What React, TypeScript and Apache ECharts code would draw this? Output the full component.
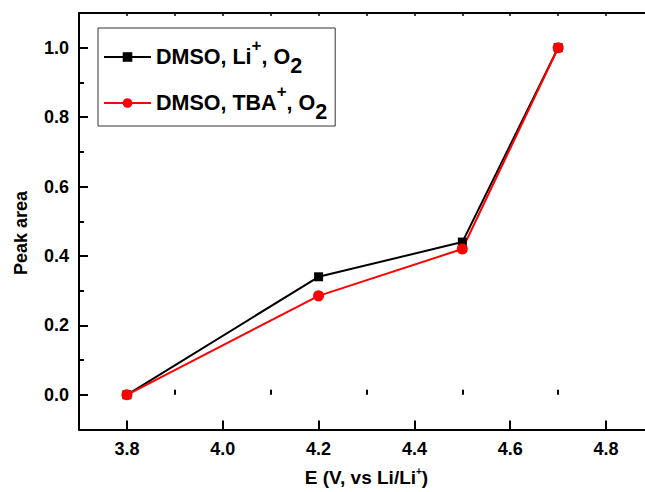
import React, { useEffect, useRef } from 'react';
import * as echarts from 'echarts';

const xValues = [3.8, 4.2, 4.5, 4.7];
const liValues = [0, 0.34, 0.44, 1.0];
const tbaValues = [0, 0.285, 0.42, 1.0];
const seriesNames = ['DMSO, Li+, O2', 'DMSO, TBA+, O2'];
const xMajorTicks = [3.8, 4.0, 4.2, 4.4, 4.6, 4.8];
const xMinorTicks = [3.7, 3.9, 4.1, 4.3, 4.5, 4.7, 4.9];
const xAllTicks = [3.7, 3.8, 3.9, 4.0, 4.1, 4.2, 4.3, 4.4, 4.5, 4.6, 4.7, 4.8, 4.9];
const yMajorTicks = [0, 0.2, 0.4, 0.6, 0.8, 1.0];
const yMinorTicks = [-0.1, 0.1, 0.3, 0.5, 0.7, 0.9, 1.1];

const FONT = '"Liberation Sans", Arial, sans-serif';

export default function App() {
  const ref = useRef<HTMLDivElement>(null);
  useEffect(() => {
    if (!ref.current) return;
    const chart = echarts.init(ref.current, undefined, { renderer: 'svg' });
    const axisLine = { show: true, onZero: false, lineStyle: { color: '#000', width: 2 } };
    const label = {
      fontFamily: FONT, fontWeight: 'bold', fontSize: 18, color: '#000', margin: 10,
      formatter: (v: number) => v.toFixed(1),
    };
    const legendRich = {
      b: { fontFamily: FONT, fontWeight: 'bold', fontSize: 21.5, color: '#000', lineHeight: 40 },
      sup: { fontFamily: FONT, fontWeight: 'bold', fontSize: 17, color: '#000', lineHeight: 17, verticalAlign: 'top' },
      sub: { fontFamily: FONT, fontWeight: 'bold', fontSize: 21.5, color: '#000', lineHeight: 25, verticalAlign: 'bottom' },
    };
    chart.setOption({
      animation: false,
      grid: { left: 79, right: 46, top: 13, bottom: 59 },
      legend: {
        orient: 'vertical', left: 98, top: 28,
        padding: [9, 8, 3, 5], itemGap: 6,
        itemWidth: 47, itemHeight: 12,
        borderColor: '#333', borderWidth: 1,
        data: seriesNames,
        formatter: (name: string) =>
          name === seriesNames[0]
            ? '{b|DMSO, Li}{sup|+}{b|, O}{sub|2}'
            : '{b|DMSO, TBA}{sup|+}{b|, O}{sub|2}',
        textStyle: { rich: legendRich },
      },
      xAxis: [
        {
          type: 'value', position: 'bottom', min: 3.7, max: 4.9,
          axisLine,
          axisTick: { inside: true, length: 9, lineStyle: { color: '#000', width: 2 }, customValues: xMajorTicks },
          axisLabel: { ...label, customValues: xMajorTicks },
          splitLine: { show: false },
          name: '{a|E (V, vs Li/Li}{s|+}{a|)}',
          nameLocation: 'middle', nameGap: 37,
          nameTextStyle: {
            rich: {
              a: { fontFamily: FONT, fontWeight: 'bold', fontSize: 19, color: '#000', lineHeight: 22 },
              s: { fontFamily: FONT, fontWeight: 'bold', fontSize: 10, color: '#000', lineHeight: 10, verticalAlign: 'top' },
            },
          },
        },
        {
          type: 'value', position: 'bottom', min: 3.7, max: 4.9,
          axisLine: { show: false },
          axisTick: { inside: true, length: 5, lineStyle: { color: '#000', width: 2 }, customValues: xMinorTicks },
          axisLabel: { show: false },
          splitLine: { show: false },
        },
        {
          type: 'value', position: 'top', min: 3.7, max: 4.9,
          axisLine,
          axisTick: { inside: true, length: 3, lineStyle: { color: '#000', width: 1.5 }, customValues: xAllTicks },
          axisLabel: { show: false },
          splitLine: { show: false },
        },
      ],
      yAxis: [
        {
          type: 'value', position: 'left', min: -0.1, max: 1.1,
          axisLine,
          axisTick: { inside: true, length: 9, lineStyle: { color: '#000', width: 2 }, customValues: yMajorTicks },
          axisLabel: { ...label, customValues: yMajorTicks },
          splitLine: { show: false },
        },
        {
          type: 'value', position: 'left', min: -0.1, max: 1.1,
          axisLine: { show: false },
          axisTick: { inside: true, length: 5, lineStyle: { color: '#000', width: 2 }, customValues: yMinorTicks },
          axisLabel: { show: false },
          splitLine: { show: false },
        },
      ],
      graphic: [
        {
          type: 'text', x: 21, y: 233, rotation: Math.PI / 2,
          style: {
            text: 'Peak area', fontFamily: FONT, fontWeight: 'bold', fontSize: 18,
            fill: '#000', align: 'center', verticalAlign: 'middle',
          },
        },
      ],
      series: [
        {
          name: seriesNames[0], type: 'line', xAxisIndex: 0, yAxisIndex: 0,
          data: xValues.map((x, i) => [x, liValues[i]]),
          symbol: 'rect', symbolSize: 9,
          itemStyle: { color: '#000' },
          lineStyle: { color: '#000', width: 2 },
        },
        {
          name: seriesNames[1], type: 'line', xAxisIndex: 0, yAxisIndex: 0,
          data: xValues.map((x, i) => [x, tbaValues[i]]),
          symbol: 'circle', symbolSize: 11,
          itemStyle: { color: '#ff0000' },
          lineStyle: { color: '#ff0000', width: 2 },
        },
      ],
    });
    return () => chart.dispose();
  }, []);
  return (
    <div style={{ position: 'absolute', left: 0, top: 0, width: 645, height: 492, overflow: 'hidden', background: '#fff' }}>
      <div ref={ref} style={{ width: 700, height: 492 }} />
    </div>
  );
}
